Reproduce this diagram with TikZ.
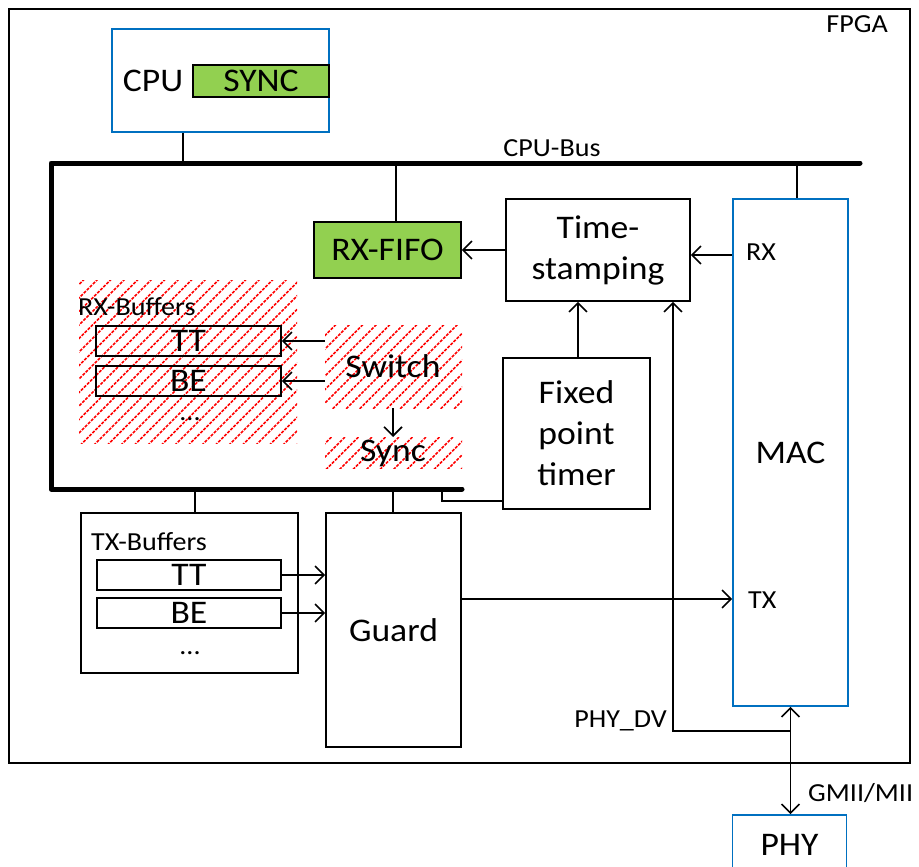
\documentclass[tikz,border=0pt]{standalone}
\usepackage{fontspec}
\setmainfont[FakeStretch=1.08]{Carlito}
\usetikzlibrary{arrows.meta}
\definecolor{oblue}{RGB}{0,112,192}
\definecolor{ogreen}{RGB}{146,208,80}
\newcommand\bigf{\fontsize{33}{41}\selectfont}
\newcommand\smallf{\fontsize{26}{30}\selectfont}
\tikzset{
 box/.style={draw, line width=1.6pt, inner sep=0pt, font=\bigf, align=center},
 bluebox/.style={box, draw=oblue},
 greenbox/.style={box, fill=ogreen},
 area/.style={inner sep=0pt, outer sep=0pt},
 lbl/.style={font=\smallf, inner sep=0pt},
 dots/.style={font=\smallf, inner sep=0pt, text height=4pt, text depth=0pt, anchor=base},
 big/.style={font=\bigf, inner sep=0pt},
 conn/.style={line width=1.6pt},
 tip/.tip={Straight Barb[length=9pt,width=18pt,line width=1.6pt]},
 arr/.style={conn, -tip},
 bus/.style={line width=5pt, line cap=round, line join=round},
 hatchline/.style={red, line width=1.5pt, dash pattern=on 3pt off 1.3pt},
}
\newcommand\hatcharea[1]{%
  \begin{scope}
    \clip (#1.south west) rectangle (#1.north east);
    \foreach \c in {350,363.5,...,945}
      \draw[hatchline] (\c-500,500) -- (\c-250,250);
  \end{scope}}
\begin{document}
\begin{tikzpicture}[x=1pt,y=-1pt]
\useasboundingbox (0,0) rectangle (919,867);

% hatched areas
\node[area, minimum width=218pt, minimum height=163pt] (rxarea) at (188,361.5) {};
\node[area, minimum width=137pt, minimum height=83pt] (swarea) at (393.5,366.5) {};
\node[area, minimum width=137pt, minimum height=31pt] (syarea) at (393.5,452.5) {};
\hatcharea{rxarea}
\hatcharea{swarea}
\hatcharea{syarea}

% FPGA frame
\node[box, minimum width=901pt, minimum height=754pt] (fpga) at (459.5,386) {};
\node[lbl, anchor=east] (fpgal) at (888,24) {FPGA};

% CPU
\node[bluebox, minimum width=217pt, minimum height=103pt] (cpu) at (220.5,80.5) {};
\node[greenbox, minimum width=136pt, minimum height=32pt] (sync) at (261,81) {SYNC};
\node[big] (cpul) at (153,81) {CPU};

% bus
\coordinate (busTL) at (51,163);
\coordinate (busR) at (860,163);
\coordinate (busBL) at (51,489);
\coordinate (busBR) at (462,489);
\draw[bus] (busR) -- (busTL) -- (busBL) -- (busBR);
\node[lbl] (busl) at (552,148) {CPU-Bus};
\coordinate (c1) at (183,163);
\draw[line width=1.2pt] (c1 |- cpu.south) -- (c1);

% RX path
\node[greenbox, minimum width=147pt, minimum height=56pt] (rxfifo) at (387.5,250) {RX-FIFO};
\node[box, minimum width=184pt, minimum height=102pt] (ts) at (598,250) {Time-\\stamping};
\node[bluebox, minimum width=115pt, minimum height=507pt] (mac) at (790.5,452.5) {MAC};
\node[box, minimum width=147pt, minimum height=151pt] (timer) at (576.5,433.5) {Fixed\\point\\timer};
\coordinate (c2) at (396,163);
\draw[conn] (c2) -- (c2 |- rxfifo.north);
\coordinate (c3) at (797,163);
\draw[conn] (c3) -- (c3 |- mac.north);
\draw[arr] (ts.west) -- (rxfifo.east);
\coordinate (rxy) at (700,255);
\draw[arr] (rxy -| mac.west) -- (rxy -| ts.east);
\node[lbl, anchor=west] (rxl) at (746,252) {RX};
\coordinate (c4) at (578,300);
\draw[arr] (c4 |- timer.north) -- (c4 |- ts.south);
\coordinate (tb) at (442,501);
\draw[conn] (tb -| timer.west) -- (tb) -- (tb |- busBR);

% PHY
\node[bluebox, minimum width=114pt, minimum height=70pt] (phy) at (789.5,850) {};
\node[big] (phyl) at (789.5,845) {PHY};
\draw[conn, tip-tip] (mac.south) -- (mac.south |- phy.north);
\node[lbl, anchor=west] (gmii) at (808,793) {GMII/MII};
\coordinate (pd) at (673,731);
\draw[arr] (mac.south |- pd) -- (pd) -- (pd |- ts.south);
\node[lbl, anchor=east] (pdl) at (667,721) {PHY\_DV};

% RX buffers
\node[lbl, anchor=west] (rxbl) at (78,307) {RX-Buffers};
\node[box, minimum width=185pt, minimum height=30pt] (rtt) at (188.5,341) {TT};
\node[box, minimum width=185pt, minimum height=30pt] (rbe) at (188.5,381) {BE};
\node[dots] (rdots) at (190,420) {...};
\node[big] (swl) at (393,366) {Switch};
\node[big] (syl) at (393,453) {Sync};
\draw[arr] (swarea.west |- rtt.east) -- (rtt.east);
\draw[arr] (swarea.west |- rbe.east) -- (rbe.east);
\coordinate (c5) at (393,420);
\draw[arr] (c5 |- swarea.south) -- (c5 |- syarea.north);

% TX buffers
\node[box, minimum width=217pt, minimum height=160pt] (txbuf) at (189.5,593) {};
\node[lbl, anchor=west] (txbl) at (91,542) {TX-Buffers};
\node[box, minimum width=184pt, minimum height=30pt] (ttt) at (189,575) {TT};
\node[box, minimum width=184pt, minimum height=30pt] (tbe) at (189,613) {BE};
\node[dots] (tdots) at (190,654) {...};
\node[box, minimum width=135pt, minimum height=234pt] (guard) at (393.5,630) {Guard};
\coordinate (c6) at (195,489);
\draw[conn] (c6) -- (c6 |- txbuf.north);
\coordinate (c7) at (393,489);
\draw[conn] (c7) -- (c7 |- guard.north);
\draw[arr] (ttt.east) -- (ttt.east -| guard.west);
\draw[arr] (tbe.east) -- (tbe.east -| guard.west);
\coordinate (txy) at (600,599);
\draw[arr] (txy -| guard.east) -- (txy -| mac.west);
\node[lbl, anchor=west] (txl) at (748,600) {TX};
\end{tikzpicture}
\end{document}
